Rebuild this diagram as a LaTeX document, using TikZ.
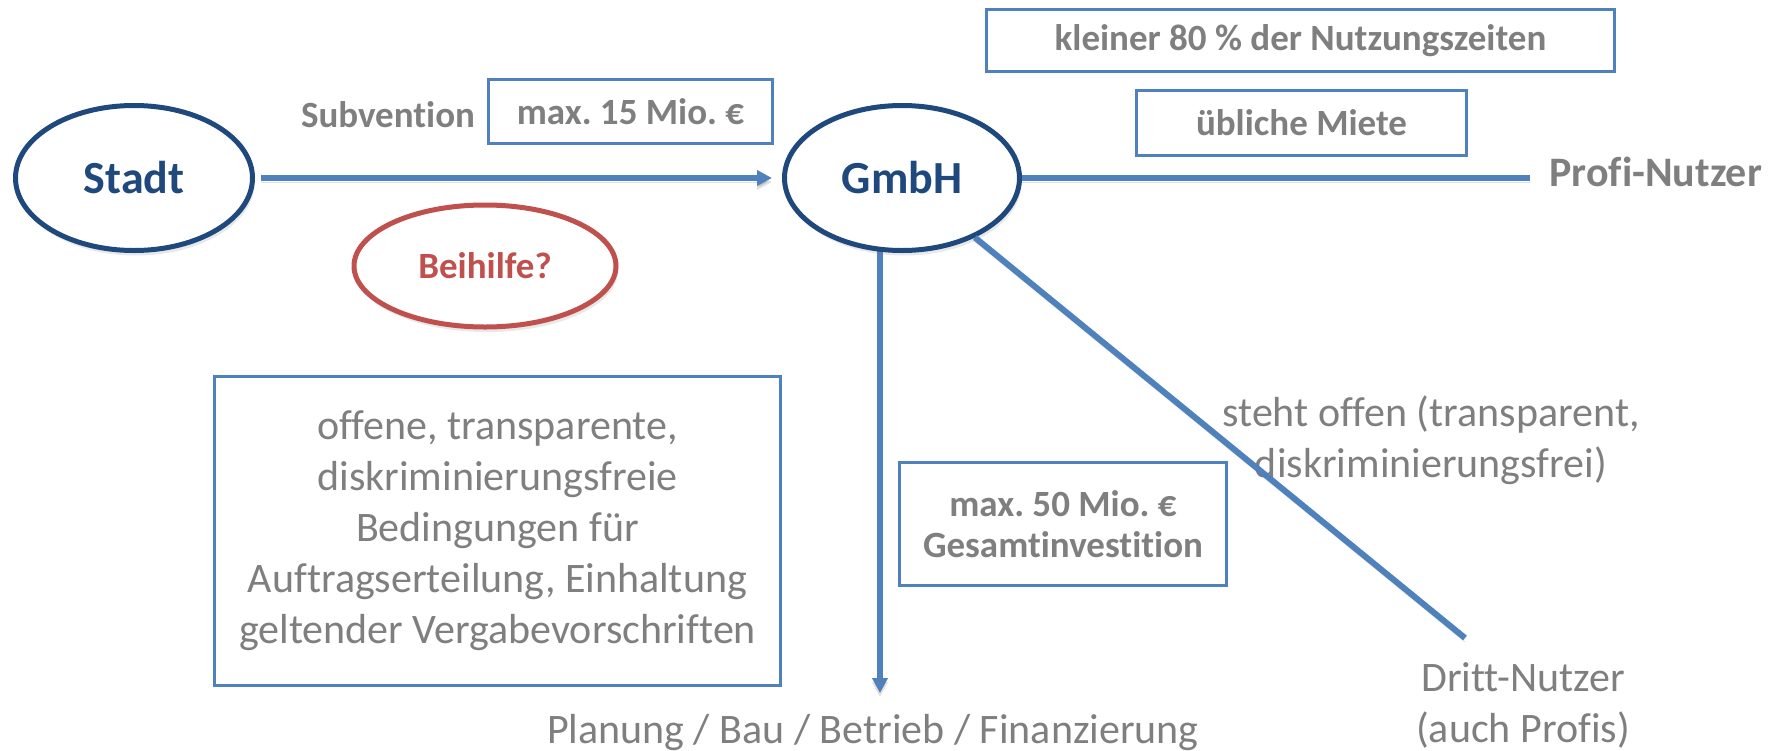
\documentclass[tikz,border=0pt]{standalone}
\usepackage{fontspec}
\setmainfont{Carlito}[Ligatures=CommonOff]
\usetikzlibrary{shapes.geometric,arrows.meta,backgrounds,shadows}
\definecolor{accblue}{HTML}{4F81BD}
\definecolor{darkblue}{HTML}{1F497D}
\definecolor{redacc}{HTML}{C0504D}
\definecolor{greytxt}{HTML}{7F7F7F}
\frenchspacing
\begin{document}
\begin{tikzpicture}[x=0.5pt,y=-0.5pt,
  softshadow/.style={drop shadow={opacity=0.18,shadow xshift=1pt,shadow yshift=-2.5pt}},
  ell/.style={ellipse, draw=darkblue, line width=2.5pt, fill=white, inner sep=0pt,
    text=darkblue, font=\bfseries\fontsize{23}{27}\selectfont, softshadow},
  redell/.style={ellipse, draw=redacc, line width=2.5pt, fill=white, inner sep=0pt,
    text=redacc, font=\bfseries\fontsize{18.5}{22}\selectfont, softshadow},
  infobox/.style={rectangle, draw=accblue, line width=1.6pt, inner sep=0pt, fill=white,
    text=greytxt, font=\bfseries\fontsize{18.5}{20.5}\selectfont, align=center},
  bigbox/.style={rectangle, draw=accblue, line width=1.6pt, inner sep=0pt, fill=white,
    text=greytxt, font=\fontsize{21}{25.5}\selectfont, align=center},
  lbl/.style={text=greytxt, inner sep=0pt, align=center},
  boldlbl/.style={lbl, font=\bfseries\fontsize{18.5}{22}\selectfont},
  reglbl/.style={lbl, font=\fontsize{21}{25.5}\selectfont},
  conn/.style={draw=accblue, line width=3pt,
    preaction={draw=black, opacity=0.12, transform canvas={yshift=-2pt}}},
  arrowtip/.style={-{Triangle[length=7.5pt,width=7.5pt]}}
]
\useasboundingbox (0,0) rectangle (1783,750);

% ellipses
\node[ell, minimum width=118.5pt, minimum height=72.5pt] (stadt) at (134,178) {Stadt};
\node[ell, minimum width=117.5pt, minimum height=72.5pt] (gmbh) at (902,178) {GmbH};
\node[redell, minimum width=131pt, minimum height=61pt] (beihilfe) at (485,266) {Beihilfe?};

% boxes
\node[infobox, minimum width=142pt, minimum height=32pt] (maxfifteen) at (630.5,111.5) {max. 15 Mio. €};
\node[infobox, minimum width=314pt, minimum height=31pt] (kleiner) at (1300.5,40.5) {kleiner 80 \% der Nutzungszeiten};
\node[infobox, minimum width=165pt, minimum height=32.5pt] (miete) at (1301.5,123) {übliche Miete};
\node[infobox, minimum width=163.5pt, minimum height=61.5pt] (gesamt) at (1063,524) {max. 50 Mio. €\\Gesamtinvestition};
\node[bigbox, minimum width=283pt, minimum height=154.5pt] (bedingungen) at (497.5,531)
  {offene, transparente,\\diskriminierungsfreie\\Bedingungen für\\Auftragserteilung, Einhaltung\\geltender Vergabevorschriften};

% labels
\node[boldlbl, anchor=base] (subv) at (388,127) {Subvention};
\node[lbl, font=\bfseries\fontsize{21}{25}\selectfont, anchor=base west] (profi) at (1549,186) {Profi-Nutzer};
\node[reglbl, anchor=base] (planung) at (873,743) {Planung / Bau / Betrieb / Finanzierung};
\node[reglbl] (steht) at (1431,440) {steht offen (transparent,\\diskriminierungsfrei)};
\node[reglbl] (dritt) at (1523,705) {Dritt-Nutzer\\(auch Profis)};

% connector end points
\coordinate (pend) at (1530,178);
\coordinate (dend) at (1465,638);
\coordinate (vend) at (880,693);

\begin{scope}[on background layer]
  \draw[conn, arrowtip] (vend |- gmbh.center) -- (vend);
\end{scope}
\draw[conn, arrowtip, shorten <=3pt, shorten >=5pt] (stadt) -- (gmbh);
\draw[conn] (gmbh) -- (pend);
\draw[conn] (gmbh) -- (dend);
\end{tikzpicture}
\end{document}
